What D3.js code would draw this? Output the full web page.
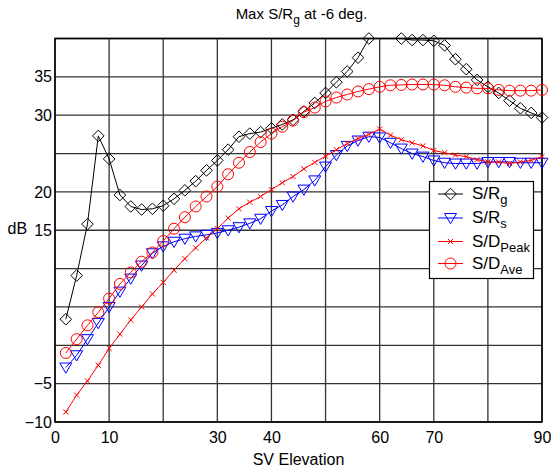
<!DOCTYPE html>
<meta charset="utf-8">
<style>
  body { margin: 0; background: #fff; }
  svg { font-family: "Liberation Sans", Arial, sans-serif; }
  .grid line { stroke: #333; stroke-width: 1.3px; }
</style>
<body>
<script src="https://d3js.org/d3.v7.min.js"></script>
<script>
// SV elevation (deg) for every sample
var elev = [2, 4, 6, 8, 10, 12, 14, 16, 18, 20, 22, 24, 26, 28, 30, 32, 34, 36, 38, 40, 42, 44,
  46, 48, 50, 52, 54, 56, 58, 60, 62, 64, 66, 68, 70, 72, 74, 76, 78, 80, 82, 84, 86, 88, 90];

// dB values
var sRg = [3.4, 9.1, 15.8, 27.3, 24.3, 19.6, 18.1, 17.7, 17.8, 18.2, 19.1, 20.2, 21.4, 22.8, 24.1,
  25.5, 27.2, 27.6, 27.8, 28.3, 28.8, 29.4, 30.5, 31.6, 32.9, 34.3, 35.7, 37.5, 40.0, 41.6, 41.8,
  40.0, 39.8, 39.8, 39.7, 39.1, 37.3, 36.0, 34.6, 33.7, 32.9, 31.9, 30.9, 30.3, 29.7];
var sRs = [-2.9, -1.3, 0.8, 2.9, 5.0, 7.0, 8.7, 10.4, 12.0, 12.9, 13.5, 13.9, 14.2, 14.4, 14.65,
  15.0, 15.4, 15.9, 16.5, 17.5, 18.3, 19.4, 20.3, 21.5, 23.3, 24.8, 26.0, 26.7, 27.2, 27.1, 26.4,
  25.65, 25.0, 24.6, 24.1, 23.8, 23.7, 23.7, 23.7, 23.9, 23.9, 23.9, 23.8, 23.8, 23.8];
var sDpeak = [-8.7, -6.5, -4.65, -2.6, -0.4, 1.45, 3.3, 5.0, 6.7, 8.2, 9.8, 11.3, 12.7, 14.0, 15.2,
  16.6, 17.8, 18.65, 19.4, 20.3, 21.2, 22.0, 23.0, 23.85, 24.65, 25.5, 26.3, 26.95, 27.5, 28.2, 27.4,
  26.8, 26.4, 26.0, 25.4, 25.1, 24.8, 24.6, 24.2, 23.9, 23.9, 23.7, 23.9, 24.1, 24.6];
var sDave = [-1.0, 0.8, 2.6, 4.3, 6.1, 8.0, 9.5, 10.9, 12.1, 13.6, 15.2, 16.7, 18.1, 19.4, 20.7,
  22.3, 23.8, 25.2, 26.5, 27.6, 28.5, 29.3, 30.4, 31.0, 31.8, 32.3, 32.7, 33.1, 33.4, 33.7, 33.9,
  33.95, 34.0, 34.0, 34.0, 33.9, 33.7, 33.6, 33.5, 33.5, 33.3, 33.2, 33.2, 33.2, 33.3];

// ticks: grid at every step, but only some are labelled
var xTicks = [0, 10, 20, 30, 40, 50, 60, 70, 80, 90];
var xLabels = [0, 10, 30, 40, 60, 70, 90];
var yTicks = [-10, -5, 0, 5, 10, 15, 20, 25, 30, 35, 40];
var yLabels = [-10, -5, 15, 20, 30, 35];

var W = 551, H = 470;
var plotL = 55, plotR = 542, plotT = 38.5, plotB = 422;

var x = d3.scaleLinear().domain([0, 90]).range([plotL, plotR]);
var y = d3.scaleLinear().domain([-10, 40]).range([plotB, plotT]);

var svg = d3.select('body').append('svg')
  .attr('width', W)
  .attr('height', H);

svg.append('defs').append('clipPath').attr('id', 'plotclip')
  .append('rect')
  .attr('x', plotL).attr('y', plotT)
  .attr('width', plotR - plotL).attr('height', plotB - plotT);

// grid
var grid = svg.append('g').attr('class', 'grid');
grid.selectAll('line.v').data(xTicks).enter().append('line')
  .attr('class', 'v')
  .attr('x1', function(d) { return x(d); })
  .attr('x2', function(d) { return x(d); })
  .attr('y1', plotT).attr('y2', plotB);
grid.selectAll('line.h').data(yTicks).enter().append('line')
  .attr('class', 'h')
  .attr('x1', plotL).attr('x2', plotR)
  .attr('y1', function(d) { return y(d); })
  .attr('y2', function(d) { return y(d); });

// axes (labels only)
var xAxis = d3.axisBottom(x).tickValues(xLabels).tickSize(0).tickPadding(10)
  .tickFormat(d3.format('d'));
svg.append('g').attr('transform', 'translate(0,' + plotB + ')').call(xAxis)
  .call(function(g) { g.select('.domain').remove(); })
  .selectAll('text').attr('font-size', 16).attr('font-family', '"Liberation Sans", Arial, sans-serif')
  .attr('fill', '#000');

var yAxis = d3.axisLeft(y).tickValues(yLabels).tickSize(0).tickPadding(3)
  .tickFormat(d3.format('d'));
svg.append('g').attr('transform', 'translate(' + plotL + ',0)').call(yAxis)
  .call(function(g) { g.select('.domain').remove(); })
  .selectAll('text').attr('font-size', 16).attr('font-family', '"Liberation Sans", Arial, sans-serif')
  .attr('fill', '#000');

// box
svg.append('rect')
  .attr('x', plotL).attr('y', plotT)
  .attr('width', plotR - plotL).attr('height', plotB - plotT)
  .attr('fill', 'none').attr('stroke', '#000').attr('stroke-width', 1.5);

// markers
function diamond(s) { return 'M0,' + (-s) + 'L' + s + ',0L0,' + s + 'L' + (-s) + ',0Z'; }
function triDown(s) { return 'M' + (-s) + ',' + (-s * 0.75) + 'L' + s + ',' + (-s * 0.75) + 'L0,' + (s * 0.95) + 'Z'; }
function cross(s) { return 'M' + (-s) + ',' + (-s) + 'L' + s + ',' + s + 'M' + (-s) + ',' + s + 'L' + s + ',' + (-s); }
function circ(s) { return d3.arc()({ innerRadius: 0, outerRadius: s, startAngle: 0, endAngle: 2 * Math.PI }); }

var series = [
  { name: 'S/R', sub: 'g', vals: sRg, color: '#000', marker: diamond(5.8) },
  { name: 'S/R', sub: 's', vals: sRs, color: '#0000ff', marker: triDown(6) },
  { name: 'S/D', sub: 'Peak', vals: sDpeak, color: '#ff0000', marker: cross(2.6) },
  { name: 'S/D', sub: 'Ave', vals: sDave, color: '#ff0000', marker: circ(5.5) }
];

var line = d3.line()
  .x(function(d) { return x(d[0]); })
  .y(function(d) { return y(d[1]); });

series.forEach(function(s) {
  var pts = elev.map(function(e, i) { return [e, s.vals[i]]; });
  var g = svg.append('g');
  g.append('path')
    .attr('d', line(pts))
    .attr('clip-path', 'url(#plotclip)')
    .attr('fill', 'none')
    .attr('stroke', s.color)
    .attr('stroke-width', 1);
  g.selectAll('path.m').data(pts.filter(function(p) { return p[1] <= 40; })).enter()
    .append('path')
    .attr('class', 'm')
    .attr('d', s.marker)
    .attr('transform', function(d) { return 'translate(' + x(d[0]) + ',' + y(d[1]) + ')'; })
    .attr('fill', 'none')
    .attr('stroke', s.color)
    .attr('stroke-width', 1);
});

// legend
var lg = svg.append('g');
lg.append('rect')
  .attr('x', 429.5).attr('y', 181.5)
  .attr('width', 104).attr('height', 97)
  .attr('fill', '#fff').attr('stroke', '#000').attr('stroke-width', 1.2);
var legY = [194, 218, 241.5, 263.5];
series.forEach(function(s, i) {
  var cy = legY[i];
  lg.append('line')
    .attr('x1', 438).attr('x2', 463).attr('y1', cy).attr('y2', cy)
    .attr('stroke', s.color).attr('stroke-width', 1);
  lg.append('path')
    .attr('d', s.marker)
    .attr('transform', 'translate(450.5,' + cy + ')')
    .attr('fill', 'none').attr('stroke', s.color).attr('stroke-width', 1);
  var t = lg.append('text')
    .attr('x', 472).attr('y', cy + 5)
    .attr('font-size', 17).attr('fill', '#000')
    .text(s.name);
  t.append('tspan').attr('dy', 5).attr('font-size', 13).text(s.sub);
});

// title
var title = svg.append('text')
  .attr('x', (plotL + plotR) / 2 + 3).attr('y', 19)
  .attr('text-anchor', 'middle')
  .attr('font-size', 15).attr('fill', '#000');
title.append('tspan').text('Max S/R');
title.append('tspan').attr('dy', 5).attr('font-size', 12).text('g');
title.append('tspan').attr('dy', -5).text(' at -6 deg.');

// axis titles
svg.append('text')
  .attr('x', (plotL + plotR) / 2).attr('y', 465)
  .attr('text-anchor', 'middle')
  .attr('font-size', 16).attr('fill', '#000')
  .text('SV Elevation');

svg.append('text')
  .attr('x', 7.5).attr('y', 234)
  .attr('font-size', 16).attr('fill', '#000')
  .text('dB');
</script>
</body>
